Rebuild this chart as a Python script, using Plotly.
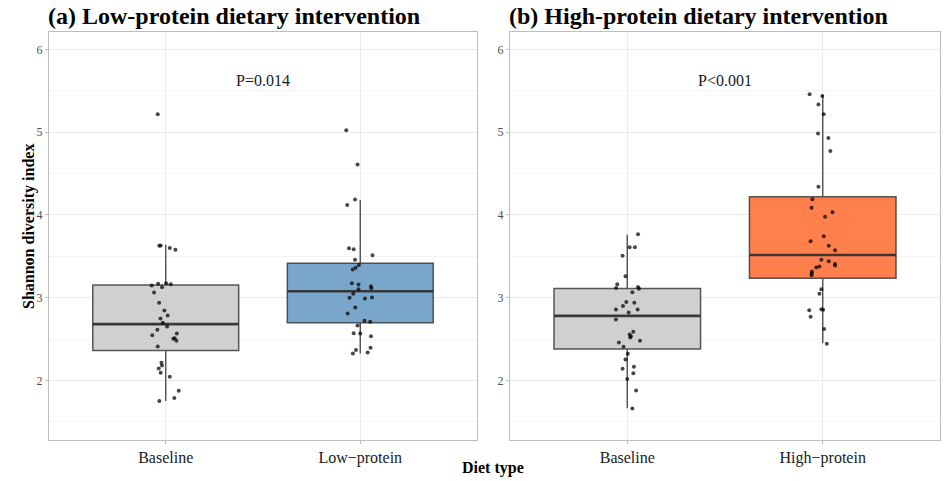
import plotly.graph_objects as go

# ---------------- data ----------------
categories_a = ["Baseline", "Low\u2212protein"]
categories_b = ["Baseline", "High\u2212protein"]

# box statistics [q1, median, q3, lower whisker, upper whisker]
stats_a_base = [2.362, 2.68, 3.153, 1.75, 3.64]
stats_a_low = [2.696, 3.077, 3.415, 2.326, 4.18]
stats_b_base = [2.38, 2.78, 3.11, 1.665, 3.76]
stats_b_high = [3.234, 3.515, 4.22, 2.45, 5.45]

# individual observations (values) and horizontal jitter offsets
a_base_y = [5.216, 3.628, 3.63, 3.60, 3.58, 3.147, 3.167, 3.127, 3.175, 3.163,
            3.063, 2.937, 2.845, 2.785, 2.749, 2.696, 2.652, 2.611, 2.547, 2.568,
            2.502, 2.51, 2.478, 2.41, 2.213, 2.181, 2.145, 2.092, 2.044, 1.874,
            1.786, 1.75]
a_base_j = [-0.041, -0.033, -0.026, 0.021, 0.05, -0.072, -0.039, -0.019, 0.002, 0.026,
            -0.06, -0.034, -0.007, 0.01, -0.027, -0.015, 0.007, -0.043, -0.069, 0.057,
            0.039, 0.046, 0.055, -0.041, -0.022, -0.019, -0.036, -0.026, 0.021, 0.067,
            0.044, -0.033]

a_low_y = [5.022, 4.609, 4.186, 4.121, 3.598, 3.586, 3.513, 3.457, 3.396, 3.36,
           3.34, 3.175, 3.159, 3.138, 3.114, 3.102, 3.046, 2.998, 2.99, 3.002,
           2.882, 2.809, 2.72, 2.71, 2.664, 2.571, 2.568, 2.535, 2.394, 2.366,
           2.326, 2.338]
a_low_j = [-0.072, -0.014, -0.027, -0.067, -0.058, -0.034, 0.063, -0.027, -0.007, -0.024,
           -0.039, -0.043, -0.009, 0.055, 0.057, -0.009, -0.036, -0.055, 0.024, 0.06,
           -0.026, -0.065, 0.022, 0.051, -0.014, -0.034, 0.0, 0.055, 0.053, -0.022,
           -0.038, 0.038]

b_base_y = [3.765, 3.608, 3.608, 3.507, 3.258, 3.161, 3.117, 3.13, 3.108, 3.065,
            2.946, 2.938, 2.9, 2.857, 2.857, 2.821, 2.737, 2.587, 2.555, 2.519,
            2.535, 2.478, 2.459, 2.406, 2.321, 2.254, 2.14, 2.164, 2.088, 2.016,
            1.879, 1.662]
b_base_j = [0.055, 0.012, 0.039, -0.024, -0.009, -0.051, -0.057, 0.055, 0.06, 0.026,
            -0.005, 0.036, -0.022, -0.058, 0.053, 0.007, -0.058, 0.031, 0.012, 0.015,
            0.019, 0.065, -0.043, -0.019, 0.003, -0.009, -0.024, 0.034, 0.031, 0.0,
            0.045, 0.026]

b_high_y = [5.458, 5.438, 5.334, 5.217, 4.984, 4.928, 4.771, 4.34, 4.188, 4.087,
            4.031, 3.978, 3.741, 3.681, 3.628, 3.572, 3.459, 3.439, 3.408, 3.389,
            3.377, 3.365, 3.317, 3.292, 3.272, 3.102, 3.046, 2.861, 2.853, 2.849,
            2.768, 2.62, 2.442]
b_high_j = [-0.067, -0.002, -0.022, 0.005, -0.024, 0.029, 0.039, -0.022, -0.053, -0.057,
            0.05, 0.012, 0.005, -0.062, 0.031, 0.063, -0.007, 0.031, 0.063, 0.063,
            -0.017, -0.033, -0.055, -0.057, -0.057, -0.007, -0.017, -0.007, 0.002, -0.069,
            -0.062, 0.007, 0.021]

p_labels = ["P=0.014", "P<0.001"]
p_y = 5.62

titles = ["(a) Low-protein dietary intervention", "(b) High-protein dietary intervention"]
y_title = "Shannon diversity index"
x_title = "Diet type"

# ---------------- style ----------------
FONT = "Liberation Serif"
W, H = 948, 481
GRAY_FILL = "rgba(208,208,208,1)"
BLUE_FILL = "rgba(122,166,204,1)"
ORANGE_FILL = "rgba(255,127,77,1)"
BOX_LINE = "rgba(60,60,60,0.85)"
MED_LINE = "rgba(50,50,50,0.9)"
PT = "rgba(0,0,0,0.72)"
BOX_W = 0.75

fig = go.Figure()


def add_box(pos, stats, fill, xa, ya):
    q1, med, q3, lo, hi = stats
    fig.add_trace(go.Box(
        x=[pos], q1=[q1], median=[med], q3=[q3], lowerfence=[lo], upperfence=[hi],
        width=BOX_W, whiskerwidth=0, fillcolor=fill, line=dict(color=BOX_LINE, width=1.5),
        boxpoints=False, xaxis=xa, yaxis=ya, showlegend=False, hoverinfo="skip"))
    # thicker median line (as in ggplot)
    fig.add_trace(go.Scatter(
        x=[pos - BOX_W / 2, pos + BOX_W / 2], y=[med, med], mode="lines",
        line=dict(color=MED_LINE, width=2.6), xaxis=xa, yaxis=ya,
        showlegend=False, hoverinfo="skip"))


def add_pts(pos, ys, js, xa, ya):
    fig.add_trace(go.Scatter(
        x=[pos + j for j in js], y=ys, mode="markers",
        marker=dict(size=4, color=PT, line=dict(width=0)),
        xaxis=xa, yaxis=ya, showlegend=False, hoverinfo="skip"))


add_box(1, stats_a_base, GRAY_FILL, "x", "y")
add_box(2, stats_a_low, BLUE_FILL, "x", "y")
add_box(1, stats_b_base, GRAY_FILL, "x2", "y2")
add_box(2, stats_b_high, ORANGE_FILL, "x2", "y2")
add_pts(1, a_base_y, a_base_j, "x", "y")
add_pts(2, a_low_y, a_low_j, "x", "y")
add_pts(1, b_base_y, b_base_j, "x2", "y2")
add_pts(2, b_high_y, b_high_j, "x2", "y2")

ydom = [1 - 440 / H, 1 - 32 / H]
xdom1 = [49 / W, 477 / W]
xdom2 = [510 / W, 940 / W]

common_x = dict(range=[0.4, 2.6], tickmode="array", tickvals=[1, 2],
                showgrid=True, gridcolor="#ebebeb", gridwidth=1, zeroline=False,
                showline=True, linecolor="#bdbdbd", linewidth=1.2, mirror=True,
                ticks="outside", ticklen=3, tickcolor="#bdbdbd",
                tickfont=dict(family=FONT, size=16, color="#1a1a1a"))
common_y = dict(range=[1.28, 6.21], tickmode="array", tickvals=[2, 3, 4, 5, 6],
                showgrid=True, gridcolor="#ebebeb", gridwidth=1, zeroline=False,
                minor=dict(tickvals=[1.5, 2.5, 3.5, 4.5, 5.5], showgrid=True,
                           gridcolor="#f4f4f4", gridwidth=1, ticks=""),
                showline=True, linecolor="#bdbdbd", linewidth=1.2, mirror=True,
                ticks="outside", ticklen=3, tickcolor="#bdbdbd",
                tickfont=dict(family=FONT, size=12, color="#4d4d4d"))

fig.update_layout(
    width=W, height=H, margin=dict(l=0, r=0, t=0, b=0),
    paper_bgcolor="white", plot_bgcolor="white", showlegend=False,
    xaxis=dict(common_x, domain=xdom1, ticktext=categories_a, anchor="y"),
    yaxis=dict(common_y, domain=ydom, anchor="x"),
    xaxis2=dict(common_x, domain=xdom2, ticktext=categories_b, anchor="y2"),
    yaxis2=dict(common_y, domain=ydom, anchor="x2"),
)

# P-value annotations
fig.add_annotation(x=1.5, y=p_y, xref="x", yref="y", text=p_labels[0], showarrow=False,
                   font=dict(family=FONT, size=16, color="#1a1a1a"))
fig.add_annotation(x=1.5, y=p_y, xref="x2", yref="y2", text=p_labels[1], showarrow=False,
                   font=dict(family=FONT, size=16, color="#1a1a1a"))

# panel titles
fig.add_annotation(x=46 / W, y=1 - 16 / H, xref="paper", yref="paper", text="<b>" + titles[0] + "</b>",
                   showarrow=False, xanchor="left", yanchor="middle",
                   font=dict(family=FONT, size=24, color="black"))
fig.add_annotation(x=507 / W, y=1 - 16 / H, xref="paper", yref="paper", text="<b>" + titles[1] + "</b>",
                   showarrow=False, xanchor="left", yanchor="middle",
                   font=dict(family=FONT, size=24, color="black"))

# axis titles
fig.add_annotation(x=29 / W, y=1 - 227 / H, xref="paper", yref="paper", text="<b>" + y_title + "</b>",
                   showarrow=False, textangle=-90, xanchor="center", yanchor="middle",
                   font=dict(family=FONT, size=16, color="black"))
fig.add_annotation(x=493 / W, y=1 - 468 / H, xref="paper", yref="paper", text="<b>" + x_title + "</b>",
                   showarrow=False, xanchor="center", yanchor="middle",
                   font=dict(family=FONT, size=16, color="black"))

fig.write_html("out.html")
